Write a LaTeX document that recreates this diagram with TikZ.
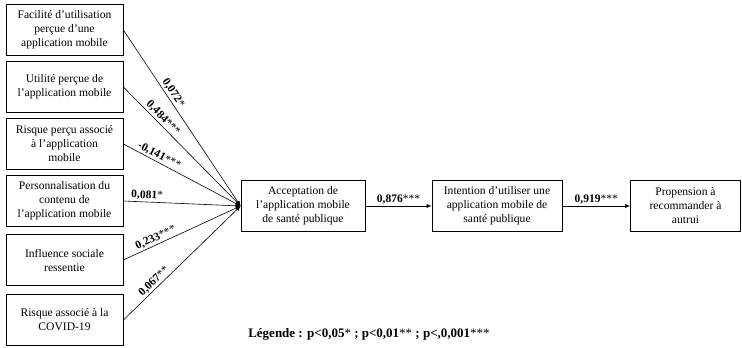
\documentclass[tikz,border=0pt]{standalone}
\usepackage{fontspec}
\setmainfont{Liberation Serif}
\usetikzlibrary{arrows.meta,positioning}

\tikzset{
  facteur/.style={draw, line width=0.8pt, align=center, minimum width=117pt, minimum height=51pt, inner sep=1pt, font=\fontsize{11.6}{14}\selectfont},
  etape/.style={facteur, minimum width=124pt},
  lien/.style={-{Latex[length=5pt,width=4pt]}, line width=0.6pt},
  poids/.style={font=\fontsize{11.5}{12}\selectfont, inner sep=1.5pt}
}

\begin{document}
\begin{tikzpicture}[x=1pt,y=-1pt]
    \useasboundingbox (0,0) rectangle (742,348);
    % facteurs
    \node[facteur] (facilite) at (64.5,30) {Facilité d’utilisation\\perçue d’une\\application mobile};
    \node[facteur] (utilite) at (64.5,87) {Utilité perçue de\\l’application mobile};
    \node[facteur] (risque) at (64.5,144) {Risque perçu associé\\à l’application\\mobile};
    \node[facteur] (perso) at (64.5,201) {Personnalisation du\\contenu de\\l’application mobile};
    \node[facteur] (influence) at (64.5,260) {Influence sociale\\ressentie};
    \node[facteur] (covid) at (64.5,320) {Risque associé à la\\COVID-19};
    % chaine
    \node[etape] (accept) at (303,206) {Acceptation de\\l’application mobile\\de santé publique};
    \node[etape, minimum width=130pt] (intention) at (497,206) {Intention d’utiliser une\\application mobile de\\santé publique};
    \node[etape, minimum width=110pt] (propension) at (685.5,206) {Propension à\\recommander à\\autrui};
    % liens
    \draw[lien] (facilite.east) -- node[poids, sloped, above, pos=0.38] {\textbf{0,072}*} (accept.west);
    \draw[lien] (utilite.east) -- node[poids, sloped, above, pos=0.3] {\textbf{0,484}***} (accept.west);
    \draw[lien] (risque.east) -- node[poids, sloped, above, pos=0.28] {\textbf{-0,141}***} (accept.west);
    \draw[lien] (perso.east) -- node[poids, sloped, above, pos=0.2] {\textbf{0,081}*} (accept.west);
    \draw[lien] (influence.east) -- node[poids, sloped, above, pos=0.3] {\textbf{0,233}***} (accept.west);
    \draw[lien] (covid.east) -- node[poids, sloped, above, pos=0.3] {\textbf{0,067}**} (accept.west);
    \draw[lien] (accept) -- node[poids, above] {\textbf{0,876}***} (intention);
    \draw[lien] (intention) -- node[poids, above] {\textbf{0,919}***} (propension);
    % legende
    \node[font=\fontsize{13}{15}\selectfont] (legende) at (369,334) {\textbf{Légende : p<0,05}* \textbf{; p<0,01}** \textbf{; p<,0,001}***};
\end{tikzpicture}
\end{document}
